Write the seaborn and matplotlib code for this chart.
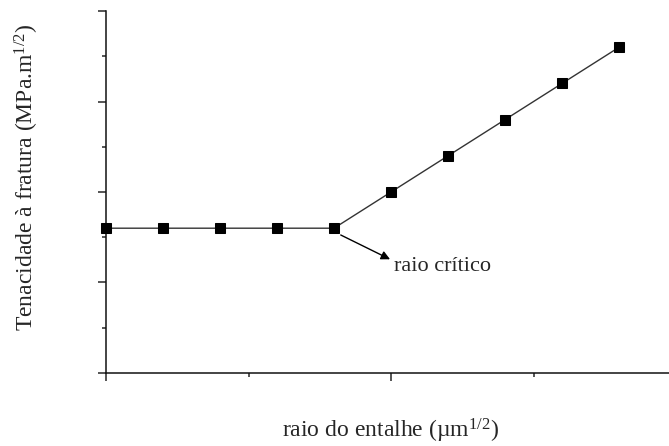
import numpy as np
import pandas as pd
import matplotlib
matplotlib.use("Agg")
import matplotlib.pyplot as plt
from matplotlib.ticker import MultipleLocator
import seaborn as sns

# dados
raio = [0.0, 0.4, 0.8, 1.2, 1.6, 2.0, 2.4, 2.8, 3.2, 3.6]
tenacidade = [3.2, 3.2, 3.2, 3.2, 3.2, 4.0, 4.8, 5.6, 6.4, 7.2]

df = pd.DataFrame({"raio": raio, "tenacidade": tenacidade})

sns.set_style("ticks")
plt.rcParams["font.family"] = ["Liberation Serif", "DejaVu Serif"]
plt.rcParams["mathtext.fontset"] = "custom"
plt.rcParams["mathtext.rm"] = "Liberation Serif"
plt.rcParams["mathtext.it"] = "Liberation Serif:italic"

fig = plt.figure(figsize=(6.69, 4.46), dpi=100)
ax = fig.add_axes([0.1584, 0.1637, 0.8416, 0.8116])

sns.lineplot(data=df, x="raio", y="tenacidade", ax=ax, color="#333333",
             linewidth=1.0, marker="s", markersize=6.5, markerfacecolor="black",
             markeredgecolor="black", clip_on=False, zorder=3)

ax.set_xlim(0, 3.95)
ax.set_ylim(0, 8)
ax.xaxis.set_major_locator(MultipleLocator(2))
ax.xaxis.set_minor_locator(MultipleLocator(1))
ax.yaxis.set_major_locator(MultipleLocator(2))
ax.yaxis.set_minor_locator(MultipleLocator(1))
ax.tick_params(which="major", direction="out", length=6, width=1.1, labelleft=False, labelbottom=False)
ax.tick_params(which="minor", direction="out", length=3, width=1.1)
for s in ["left", "bottom"]:
    ax.spines[s].set_linewidth(1.1)
    ax.spines[s].set_color("#111111")
sns.despine(ax=ax)

ax.set_xlabel("raio do entalhe (µm$^{\\mathrm{1/2}}$)", fontsize=17)
ax.set_ylabel("Tenacidade à fratura (MPa.m$^{\\mathrm{1/2}}$)", fontsize=17)
ax.xaxis.set_label_coords(0.505, -0.122)
ax.yaxis.set_label_coords(-0.115, 0.541)

# seta do raio crítico
ax.annotate("", xy=(1.993, 2.513), xytext=(1.647, 3.05),
            arrowprops=dict(arrowstyle="-|>", color="black", lw=1.0, mutation_scale=13,
                            shrinkA=0, shrinkB=0))
ax.text(2.02, 2.254, "raio crítico", fontsize=16, ha="left", va="baseline")

fig.savefig("out.png", dpi=100)
